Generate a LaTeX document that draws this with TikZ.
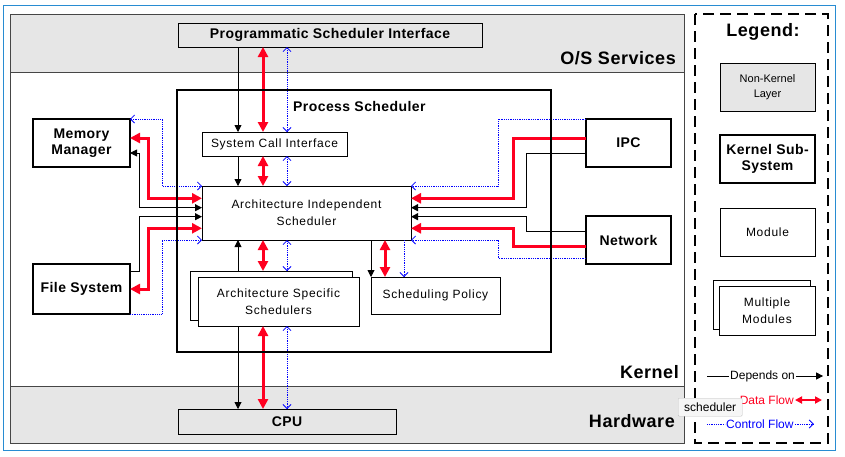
\documentclass[tikz,border=0pt]{standalone}
\usepackage{fontspec}
\setmainfont{Liberation Sans}
\newfontfamily\modfont[LetterSpace=6]{Liberation Sans}
\newfontfamily\kbfont[LetterSpace=3]{Liberation Sans}
\usetikzlibrary{arrows.meta,calc}
\definecolor{bandgrey}{RGB}{230,230,230}
\definecolor{datared}{RGB}{255,0,32}
\definecolor{ctrlblue}{RGB}{0,0,255}
\definecolor{frameblue}{RGB}{40,140,210}
\definecolor{framegrey}{RGB}{70,70,70}
\begin{document}
\begin{tikzpicture}[x=1pt,y=-1pt,
  box/.style={draw=black, line width=1pt, inner sep=0pt, outer sep=0pt, anchor=north west, align=center},
  modbox/.style={box, fill=white, font=\modfont\fontsize{12}{17}\selectfont},
  kbox/.style={box, fill=white, line width=2.4pt, font=\kbfont\bfseries\fontsize{14}{16}\selectfont},
  layerbox/.style={box, fill=bandgrey, font=\kbfont\bfseries\fontsize{14}{16}\selectfont},
  seclabel/.style={font=\kbfont\bfseries\fontsize{18}{20}\selectfont, inner sep=0pt},
  dep/.style={draw=black, line width=0.9pt, >={Triangle[length=7pt,width=7pt]}},
  data/.style={draw=datared, line width=3pt, >={Triangle[length=10pt,width=10pt]}},
  legdata/.style={draw=datared, line width=2pt, >={Triangle[length=7pt,width=7pt]}},
  ctrl/.style={draw=ctrlblue, line width=0.8pt, densely dotted, >={Straight Barb[length=4pt,width=8pt]}},
  legtext/.style={font=\fontsize{12}{14}\selectfont, inner sep=1pt}
]
\fill[white] (0,0) rectangle (845,456);
\useasboundingbox (0,0) rectangle (845,456);
\draw[frameblue, line width=1pt] (3,5) rectangle (835,450);

% layers
\fill[bandgrey] (10,14) rectangle (684,72);
\fill[bandgrey] (10,386) rectangle (684,443);
\draw[framegrey, line width=1pt] (10,14) rectangle (684,443);
\draw[framegrey, line width=1pt] (10,72) -- (684,72);
\draw[framegrey, line width=1pt] (10,386) -- (684,386);

% boxes
\node[layerbox, minimum width=304pt, minimum height=24pt] (psi) at (178,23) {Programmatic Scheduler Interface};
\node[box, draw=none, minimum width=374pt, minimum height=262pt] (ps) at (177,90) {};
\node[modbox, minimum width=145pt, minimum height=24pt] (sci) at (202,132) {System Call Interface};
\node[modbox, minimum width=209pt, minimum height=54pt] (ais) at (202,186) {Architecture Independent\\Scheduler};
\node[modbox, minimum width=162pt, minimum height=49pt] (assback) at (190,271) {};
\node[modbox, minimum width=161pt, minimum height=49pt] (assfront) at (198,277) {Architecture Specific\\Schedulers};
\node[modbox, minimum width=129pt, minimum height=37pt] (sp) at (371,277) {Scheduling Policy};
\node[layerbox, minimum width=218pt, minimum height=25pt] (cpu) at (178,409) {CPU};
\node[kbox, minimum width=97pt, minimum height=48pt] (mm) at (33,119) {Memory\\Manager};
\node[kbox, minimum width=97pt, minimum height=50pt] (fs) at (33,264) {File System};
\node[kbox, minimum width=85pt, minimum height=48pt] (ipc) at (586,119) {IPC};
\node[kbox, minimum width=85pt, minimum height=48pt] (net) at (586,216) {Network};

% vertical connector columns
\coordinate (xb) at (238,0);
\coordinate (xr) at (263,0);
\coordinate (xc) at (287,0);
\coordinate (xsr) at (385,0);
\coordinate (xsc) at (404,0);

% PSI -> SCI
\draw[dep,->] (psi.south -| xb) -- (sci.north -| xb);
\draw[data,<->] (psi.south -| xr) -- (sci.north -| xr);
\draw[ctrl,<->] (psi.south -| xc) -- (sci.north -| xc);
% SCI -> AIS
\draw[dep,->] (sci.south -| xb) -- (ais.north -| xb);
\draw[data,<->] (sci.south -| xr) -- (ais.north -| xr);
\draw[ctrl,<->] (sci.south -| xc) -- (ais.north -| xc);
% ASS <-> AIS
\draw[dep,->] (assback.north -| xb) -- (ais.south -| xb);
\draw[data,<->] (ais.south -| xr) -- (assback.north -| xr);
\draw[ctrl,<->] (ais.south -| xc) -- (assback.north -| xc);
% ASS -> CPU
\draw[dep,->] (assfront.south -| xb) -- (cpu.north -| xb);
\draw[data,<->] (assfront.south -| xr) -- (cpu.north -| xr);
\draw[ctrl,<->] (assfront.south -| xc) -- (cpu.north -| xc);
% AIS -> Scheduling Policy
\draw[dep,->] (ais.south -| sp.north west) -- (sp.north west);
\draw[data,<->] (ais.south -| xsr) -- (sp.north -| xsr);
\draw[ctrl,->] (ais.south -| xsc) -- (sp.north -| xsc);

% Memory Manager
\draw[ctrl,<->] (mm.north east) -- ++(32,0) |- (ais.north west);
\draw[data,<->] ([yshift=5pt]mm.east) -- ++(18,0) |- ([yshift=14.7pt]ais.west);
\draw[dep,<->] ([yshift=-10pt]mm.east) -- ++(9,0) |- ([yshift=5.3pt]ais.west);
% File System
\draw[dep,->] ([yshift=17.3pt]fs.east) -- ++(9,0) |- ([yshift=-3.7pt]ais.west);
\draw[data,<->] (fs.east) -- ++(18,0) |- ([yshift=-15.3pt]ais.west);
\draw[ctrl,->] (fs.south east) -- ++(32,0) |- (ais.south west);
% IPC
\draw[ctrl,->] (ipc.north west) -- ++(-88,0) |- (ais.north east);
\draw[data,->] ([yshift=4.7pt]ipc.west) -- ++(-73,0) |- ([yshift=14.7pt]ais.east);
\draw[dep,->] ([yshift=-10.3pt]ipc.west) -- ++(-59.3,0) |- ([yshift=5.3pt]ais.east);
% Network
\draw[dep,->] ([yshift=9pt]net.west) -- ++(-59.3,0) |- ([yshift=-3.7pt]ais.east);
\draw[data,->] ([yshift=-6pt]net.west) -- ++(-73,0) |- ([yshift=-15.3pt]ais.east);
\draw[ctrl,->] ([yshift=-18.3pt]net.west) -- ++(-88,0) |- (ais.south east);

% Process Scheduler border on top
\draw[line width=2.4pt] (ps.north west) rectangle (ps.south east);
\node[anchor=base west, inner sep=0pt, font=\kbfont\bfseries\fontsize{14}{16}\selectfont] (pslabel) at (293,111.5) {Process Scheduler};

% layer labels
\node[seclabel, anchor=base east] (oslabel) at (676,64) {O/S Services};
\node[seclabel, anchor=base east] (klabel) at (679,378) {Kernel};
\node[seclabel, anchor=base east] (hwlabel) at (675,427) {Hardware};

% legend
\draw[line width=2.4pt, dash pattern=on 11pt off 6pt] (695,14) rectangle (828,443);
\node[seclabel, anchor=base] (legtitle) at (763,36.7) {Legend:};
\node[box, fill=bandgrey, minimum width=95pt, minimum height=48pt, font=\fontsize{11}{15}\selectfont] (leg1) at (720,63) {Non-Kernel\\Layer};
\node[kbox, minimum width=95pt, minimum height=48pt] (leg2) at (720,135) {Kernel Sub-\\System};
\node[modbox, minimum width=95pt, minimum height=48pt] (leg3) at (720,208) {Module};
\node[modbox, minimum width=97pt, minimum height=49pt] (leg4back) at (713,280) {};
\node[modbox, minimum width=96pt, minimum height=49pt] (leg4) at (719,286) {Multiple\\Modules};

\node[legtext, anchor=west] (deptext) at (729,376) {Depends on};
\coordinate (depstart) at (707,376);
\draw[dep] (depstart) -- (deptext.west);
\draw[dep,->] (deptext.east) -- ++(27,0);

\node[legtext, anchor=east, text=datared] (datatext) at (795,400) {Data Flow};
\draw[legdata,<->] (datatext.east) -- ++(27,0);

\node[legtext, anchor=west, text=ctrlblue] (ctrltext) at (725,424) {Control Flow};
\coordinate (ctrlstart) at (707,424);
\draw[ctrl] (ctrlstart) -- (ctrltext.west);
\draw[ctrl,->] (ctrltext.east) -- ++(19,0);

% tooltip
\node[draw=gray!50, fill=gray!7, anchor=north west, minimum width=64pt, minimum height=18pt, inner sep=0pt, rounded corners=1pt, font=\fontsize{12}{14}\selectfont] (tip) at (678,398) {scheduler};
\end{tikzpicture}
\end{document}
